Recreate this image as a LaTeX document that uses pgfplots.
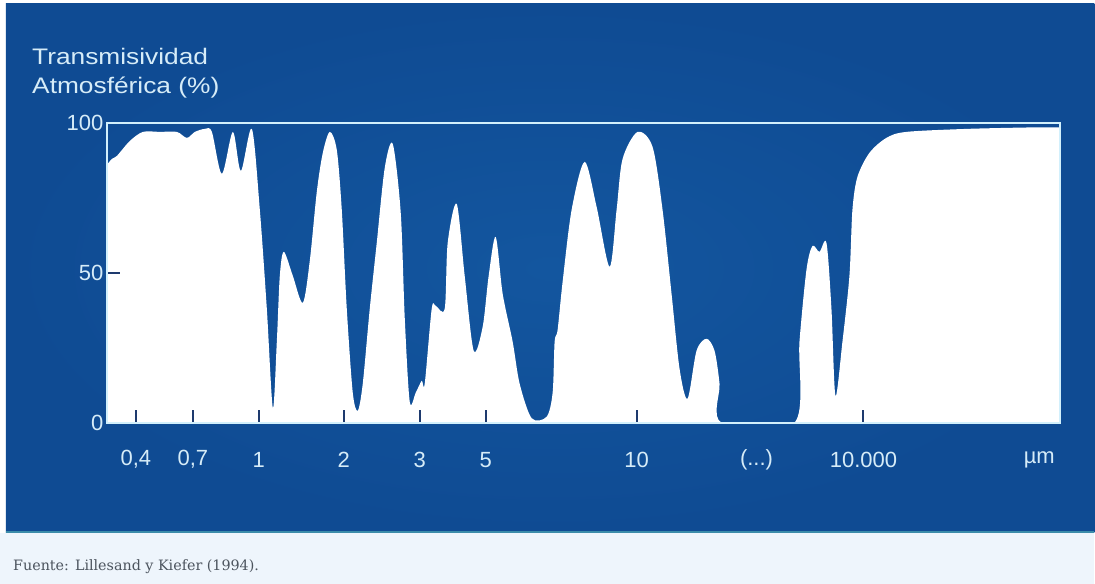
\documentclass[border=0pt]{standalone}
\usepackage{pgfplots}
\pgfplotsset{compat=1.18}
\usepackage{fontspec}
\setmainfont{Liberation Sans}
\newfontfamily\captionfont{DejaVu Serif}

\definecolor{panelmid}{HTML}{13569F}
\definecolor{paneledge}{HTML}{0F4B93}
\definecolor{labelcol}{HTML}{D6ECF8}
\definecolor{framecol}{HTML}{D2F0FC}
\definecolor{tickcol}{HTML}{1E3A6E}
\definecolor{capbg}{HTML}{EEF5FC}
\definecolor{capline}{HTML}{3C8CAA}
\definecolor{captext}{HTML}{4C545E}

% Transmissivity (%) against a schematic, non-linear wavelength position
% (0 = 0,3 um at the left edge of the frame, 954 = right edge).
\pgfplotstableread{
pos  trans
0    86
5    88
10   89
23   94
36   97
53   97
70   97
80   95
88   97
98   98
105  97
115  83
126  97
134  84
145  98
153  71
160  38
166  5
170  27
173  49
177  57
186  49
196  40
203  54
210  77
216  90
223  97
230  91
235  71
240  38
246  10
251  4
256  13
263  38
270  60
278  85
286  93
294  70
298  35
303  7
309  10
315  14
318  13
325  38
329  39
338  38
341  60
350  73
358  49
367  24
376  32
382  49
389  62
396  43
406  27
413  13
425  1.5
440  2
446  10
448  27
451  31
456  47
465  71
478  87
490  72
503  52
510  71
516  88
531  97
546  92
556  71
565  43
573  18
581  8
590  24
600  28
608  24
613  13
615  0
688  0
693  27
700  51
706  59
713  57
720  60
725  38
729  9
736  27
743  49
746  71
751  82
763  90
780  95
800  97
860  98
926  98.5
954  98.5
}\transtable

\newcommand{\gapmark}{(.{}.{}.)}

\begin{document}
\begin{tikzpicture}[x=1bp,y=1bp]
% page, panel and caption band
\fill[white] (0,0) rectangle (1095,584);
\fill[capbg] (0,0) rectangle (1095,51);
\shade[inner color=panelmid, outer color=paneledge] (6,51) rectangle (1095,580);
\draw[capline, line width=1.5bp] (6,51.5) -- (1095,51.5);

% title of the vertical axis
\node[anchor=base west, inner sep=0, text=labelcol, xscale=1.17,
      font=\fontsize{22.5bp}{26bp}\selectfont] at (32,519) {Transmisividad};
\node[anchor=base west, inner sep=0, text=labelcol, xscale=1.17,
      font=\fontsize{22.5bp}{26bp}\selectfont] at (32,490) {Atmosférica (\%)};

\begin{axis}[
  at={(107bp,161bp)}, anchor=south west,
  scale only axis, width=954bp, height=300bp,
  xmin=0, xmax=954, ymin=0, ymax=100,
  axis on top,
  axis line style={draw=framecol, line width=2bp},
  tick align=inside, tick pos=left,
  major tick length=13bp,
  tick style={draw=tickcol, line width=2bp},
  xtick={29,86,152,237,313,379,530,757},
  xticklabels={{0,4},{0,7},1,2,3,5,10,{10.000}},
  extra x ticks={650,933},
  extra x tick labels={{\gapmark},{µm}},
  extra x tick style={major tick length=0pt},
  ytick={50}, yticklabels={50},
  extra y ticks={0,100},
  extra y tick labels={{\raisebox{-1bp}{0}},{\raisebox{-6bp}{100}}},
  extra y tick style={major tick length=0pt},
  ticklabel style={text=labelcol, font=\fontsize{22bp}{26bp}\selectfont},
  xticklabel style={anchor=center, yshift=-37bp},
  yticklabel style={anchor=east},
]
\addplot[fill=white, draw=none, smooth, tension=0.5]
  table[x=pos, y=trans] {\transtable} \closedcycle;
\end{axis}

% source note
\node[anchor=base west, inner sep=0, text=captext,
      font=\captionfont\fontsize{14.3bp}{17bp}\selectfont] at (13,13)
      {Fuente: Lillesand y Kiefer (1994).};
\end{tikzpicture}
\end{document}
